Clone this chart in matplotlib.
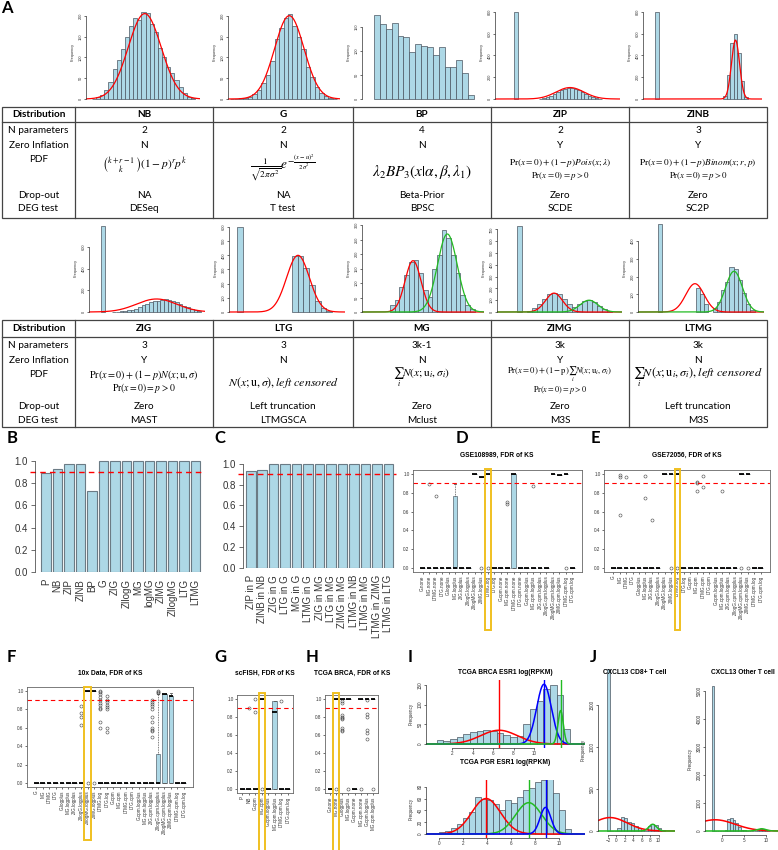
import numpy as np
import matplotlib
matplotlib.use("Agg")
import matplotlib.pyplot as plt
from matplotlib.patches import Rectangle
from matplotlib.transforms import blended_transform_factory

# ---------------- data ----------------
# panel A, top row histograms (bin width 1, counts)
nb_counts = [1, 4, 10, 22, 42, 72, 94, 120, 150, 175, 195, 190, 208, 207, 180, 160, 122, 100, 78, 62, 45, 28, 15, 6, 2]
g_counts = [1, 1, 2, 3, 6, 12, 22, 38, 58, 92, 145, 170, 195, 205, 175, 150, 120, 78, 52, 30, 15, 8, 3, 1]
bp_counts = [175, 155, 145, 157, 130, 129, 98, 114, 110, 108, 92, 108, 67, 66, 81, 53, 8]
zip_zero = 800
zip_counts = [3, 8, 18, 30, 45, 62, 78, 92, 100, 98, 90, 80, 65, 48, 32, 18, 8, 3]
zinb_zero = 800
zinb_counts = [30, 220, 510, 600, 420, 165, 20]
# second row
zig_zero = 790
zig_counts = [2, 3, 5, 8, 14, 22, 32, 45, 60, 75, 92, 105, 102, 114, 118, 112, 100, 88, 72, 58, 42, 28, 16, 8]
ltg_zero = 600
ltg_counts = [395, 395, 310, 190, 80, 25, 5]
mg_counts = [25, 40, 87, 128, 173, 178, 134, 76, 52, 149, 197, 283, 255, 197, 135, 58, 24, 10]
zimg_zero = 730
zimg_counts = [8, 30, 65, 110, 150, 165, 150, 110, 65, 45, 70, 95, 100, 85, 55, 25, 8]
ltmg_zero = 500
ltmg_red = [135, 102, 45]
ltmg_green = [22, 58, 124, 171, 253, 243, 181, 109, 45, 11]

# fitted curves (mean, sd, peak height)
nb_fit = (12.8, 4.0, 205)
g_fit = (13.3, 3.3, 200)
zip_fit = (16.0, 4.0, 105)
zinb_fit = (23.0, 1.15, 540)
zig_fit = (15.0, 5.4, 120)
ltg_fit = (10.7, 2.0, 400)
mg_fit = [(4.9, 1.7, 177), (12.2, 2.1, 269)]
zimg_fit = [(7.4, 1.7, 160), (14.4, 1.8, 100)]
ltmg_fit = [(8.8, 2.2, 160), (18.1, 2.0, 230)]

# tables
row_names = ["N parameters", "Zero Inflation", "PDF", "Drop-out", "DEG test"]
t1_names = ["NB", "G", "BP", "ZIP", "ZINB"]
t1_npar = ["2", "2", "4", "2", "3"]
t1_zi = ["N", "N", "N", "Y", "Y"]
t1_drop = ["NA", "NA", "Beta-Prior", "Zero", "Zero"]
t1_deg = ["DESeq", "T test", "BPSC", "SCDE", "SC2P"]
t2_names = ["ZIG", "LTG", "MG", "ZIMG", "LTMG"]
t2_npar = ["3", "3", "3k-1", "3k", "3k"]
t2_zi = ["Y", "N", "N", "Y", "N"]
t2_drop = ["Zero", "Left truncation", "Zero", "Zero", "Left truncation"]
t2_deg = ["MAST", "LTMGSCA", "Mclust", "M3S", "M3S"]
zero_line = r"$\mathrm{Pr}(x=0)=p>0$"
t1_pdf = [[r"$\binom{k+r-1}{k}(1-p)^r p^k$"],
          [r"$\frac{1}{\sqrt{2\pi\sigma^2}}e^{-\frac{(x-u)^2}{2\sigma^2}}$"],
          [r"$\lambda_2 BP_3(x|\alpha,\beta,\lambda_1)$"],
          [r"$\mathrm{Pr}(x=0)+(1-p)Pois(x;\lambda)$", zero_line],
          [r"$\mathrm{Pr}(x=0)+(1-p)Binom(x;r,p)$", zero_line]]
t2_pdf = [[r"$\mathrm{Pr}(x=0)+(1-p)N(x;\mathrm{u},\sigma)$", zero_line],
          [r"$N(x;\mathrm{u},\sigma),left\ censored$"],
          [r"$\sum_i N(x;\mathrm{u}_i,\sigma_i)$"],
          [r"$\mathrm{Pr}(x=0)+(1-\mathrm{p})\sum_i N(x;\mathrm{u}_i,\sigma_i)$", zero_line],
          [r"$\sum_i N(x;\mathrm{u}_i,\sigma_i),left\ censored$"]]

# panel B / C
b_labels = ["P", "NB", "ZIP", "ZINB", "BP", "G", "ZIG", "ZIlogG", "MG", "logMG", "ZIMG", "ZIlogMG", "LTG", "LTMG"]
b_values = [0.89, 0.93, 0.97, 0.97, 0.73, 1, 1, 1, 1, 1, 1, 1, 1, 1]
c_labels = ["ZIP in P", "ZINB in NB", "ZIG in G", "LTG in G", "MG in G", "LTMG in G", "ZIG in MG",
            "LTG in MG", "ZIMG in MG", "LTMG in NB", "LTMG in MG", "LTMG in ZIMG", "LTMG in LTG"]
c_values = [0.93, 0.94, 1, 1, 1, 1, 1, 1, 1, 1, 1, 1, 1]

# panels D-H: box summaries (median, q1, q3, upper whisker) and outliers
d_labels = ["G.none", "MG.none", "LTMG.none", "LTG.none", "G.logplus", "MG.logplus", "ZIG.logplus",
            "ZIlogG.logplus", "ZIlogMG.logplus", "ZIMG.logplus", "LTMG.log", "LTG.log", "G.cpm.none",
            "MG.cpm.none", "LTMG.cpm.none", "LTG.cpm.none", "G.cpm.logplus", "MG.cpm.logplus",
            "ZIG.cpm.logplus", "ZIlogG.cpm.logplus", "ZIlogMG.cpm.logplus", "ZIMG.cpm.logplus",
            "LTMG.cpm.log", "LTG.cpm.log"]
d_med = [0, 0, 0, 0, 0, 0, 0, 0, 1.0, 0.97, 1.0, 0, 0, 0, 1.0, 0, 0, 0, 0, 0, 1.0, 0.99, 1.0, 0]
d_q1 = [0, 0, 0, 0, 0, 0, 0, 0, 1.0, 0.97, 1.0, 0, 0, 0, 0, 0, 0, 0, 0, 0, 1.0, 0.99, 1.0, 0]
d_q3 = [0, 0, 0, 0, 0, 0.77, 0, 0, 1.0, 0.97, 1.0, 0, 0, 0, 1.0, 0, 0, 0, 0, 0, 1.0, 0.99, 1.0, 0]
d_whi = [0, 0, 0, 0, 0, 0.89, 0, 0, 1.0, 0.97, 1.0, 0, 0, 0, 1.0, 0, 0, 0, 0, 0, 1.0, 0.99, 1.0, 0]
d_out = {1: [0.89], 2: [0.77], 9: [0.0], 10: [0.0], 13: [0.68, 0.70], 17: [0.87], 22: [0.0]}

e_labels = ["G", "MG", "LTMG", "LTG", "G.logplus", "MG.logplus", "ZIG.logplus", "ZIlogG.logplus",
            "ZIlogMG.logplus", "ZIMG.logplus", "LTMG.log", "LTG.log", "G.cpm", "MG.cpm", "LTMG.cpm",
            "LTG.cpm", "G.cpm.logplus", "MG.cpm.logplus", "ZIG.cpm.logplus", "ZIlogG.cpm.logplus",
            "ZIlogMG.cpm.logplus", "ZIMG.cpm.logplus", "LTMG.cpm.log", "LTG.cpm.log"]
e_med = [0, 0, 0, 0, 0, 0, 0, 0, 1.0, 1.0, 1.0, 0, 0, 0, 0, 0, 0, 0, 0, 0, 1.0, 1.0, 0, 0]
e_out = {1: [0.99, 0.97, 0.56], 2: [0.97], 5: [0.98, 0.74], 6: [0.51], 9: [0.0], 10: [0.0],
         13: [0.91, 0.90, 0.82], 14: [0.98, 0.86], 17: [0.82], 20: [0.0], 21: [0.0]}

f_labels = e_labels
f_med = [0, 0, 0, 0, 0, 0, 0, 0, 1.0, 1.0, 0, 0, 0, 0, 0, 0, 0, 0, 0, 0, 0.97, 0.94, 0, 0]
f_q1 = [0, 0, 0, 0, 0, 0, 0, 0, 1.0, 1.0, 0, 0, 0, 0, 0, 0, 0, 0, 0, 0, 0, 0, 0, 0]
f_q3 = [0, 0, 0, 0, 0, 0, 0, 0, 1.0, 1.0, 0, 0, 0, 0, 0, 0, 0, 0, 0, 0.31, 0.97, 0.94, 0, 0]
f_whi = [0, 0, 0, 0, 0, 0, 0, 0, 1.0, 1.0, 0, 0, 0, 0, 0, 0, 0, 0, 0, 0.97, 0.97, 0.98, 0, 0]
f_out = {7: [0.84, 0.76, 0.72, 0.63], 8: [0.0], 9: [0.0],
         10: [1.0, 0.99, 0.97, 0.93, 0.90, 0.87, 0.85, 0.82, 0.80, 0.66, 0.60],
         11: [0.95, 0.90, 0.88, 0.85, 0.83, 0.80, 0.60, 0.55],
         18: [0.90, 0.88, 0.86, 0.84, 0.80, 0.72, 0.66, 0.60, 0.58, 0.56, 0.50],
         19: [0.98, 0.99, 1.0]}

g_labels = ["P", "NB", "G.cpm", "MG.cpm", "G.cpm.logplus", "MG.cpm.logplus", "LTMG.cpm.log", "LTG.cpm.log"]
g_med = [0, 0, 0, 1.0, 0, 0.85, 0, 0]
g_q1 = [0, 0, 0, 1.0, 0, 0, 0, 0]
g_q3 = [0, 0, 0, 1.0, 0, 0.98, 0, 0]
g_out = {1: [0.90], 2: [1.0, 0.86], 3: [0.0], 6: [0.98]}

h_labels = ["G.none", "MG.none", "G.logplus", "MG.logplus", "G.cpm.none", "MG.cpm.none",
            "G.cpm.logplus", "MG.cpm.logplus"]
h_med = [0, 1.0, 1.0, 1.0, 0, 1.0, 1.0, 1.0]
h_out = {1: [0.0], 2: [0.98, 0.95, 0.82, 0.80, 0.79, 0.78, 0.68, 0.66, 0.64], 3: [0.0],
         5: [0.0], 6: [0.99, 0.83, 0.80, 0.65, 0.62, 0.55], 7: [0.0]}

# panel I
esr1_start, esr1_width = 0.46, 0.654
esr1_counts = [10, 8, 12, 18, 25, 30, 32, 35, 33, 28, 22, 17, 20, 50, 88, 110, 140, 150, 125, 38]
esr1_fit = [(6.58, 1.8, 35, "red"), (10.99, 0.72, 152, "blue"), (12.62, 0.26, 85, "#22bb22")]
pgr_start, pgr_width = -0.5, 0.5
pgr_counts = [2, 3, 5, 10, 17, 27, 38, 62, 60, 58, 50, 40, 57, 52, 62, 75, 78, 88, 92, 95, 70, 40, 8, 2]
pgr_fit = [(3.9, 1.2, 60, "red"), (7.45, 1.1, 53, "#22bb22"), (8.85, 0.45, 45, "blue")]

# panel J
cd8_start, cd8_width = -2.2, 0.8
cd8_counts = [1930, 0, 0, 40, 170, 150, 110, 100, 60, 30, 10, 20, 55, 80, 70, 30, 8]
cd8_fit = [(-1.5, 4.0, 160, "red"), (8.6, 0.9, 80, "#22bb22")]
oth_start, oth_width = -2.3, 0.6
oth_counts = [5150, 0, 0, 0, 0, 20, 420, 480, 400, 300, 150, 50, 20, 0, 0, 0, 0, 40, 80, 70, 40, 10]
oth_fit = [(-1.5, 4.5, 400, "red"), (9.0, 1.0, 80, "#22bb22")]

# ---------------- drawing ----------------
W, H = 778, 850
LB = "#ADD8E6"
EDGE = "#4A5560"
AX = "#333333"
fig = plt.figure(figsize=(W / 100, H / 100), dpi=100)
fig.patch.set_facecolor("white")
plt.rcParams["font.family"] = ["Liberation Sans", "DejaVu Sans"]
plt.rcParams["mathtext.fontset"] = "stix"


def px_axes(x0, y0, x1, y1):
    return fig.add_axes([x0 / W, 1 - y1 / H, (x1 - x0) / W, (y1 - y0) / H])


def r_axis(ax, yticks=None, xticks=None, fs=3.0, rot=90):
    for s in ("top", "right"):
        ax.spines[s].set_visible(False)
    if yticks is None:
        ax.spines["left"].set_visible(False)
        ax.set_yticks([])
    else:
        ax.set_yticks(yticks)
        ax.spines["left"].set_bounds(yticks[0], yticks[-1])
    if xticks is None:
        ax.spines["bottom"].set_visible(False)
        ax.set_xticks([])
    else:
        ax.set_xticks(xticks)
        ax.spines["bottom"].set_bounds(xticks[0], xticks[-1])
    for s in ax.spines.values():
        s.set_linewidth(0.5)
        s.set_color(AX)
    ax.tick_params(labelsize=fs, length=1.5, width=0.5, pad=1, colors=AX)
    if yticks is not None and rot:
        plt.setp(ax.get_yticklabels(), rotation=rot, va="center")
    ax.patch.set_alpha(0)


def gauss(xs, mu, sd, peak):
    return peak * np.exp(-0.5 * ((xs - mu) / sd) ** 2)


def hist_ax(x0, x1, top, base, org, ppx, ppy, segments, fits, yticks, lw=0.9):
    ax = px_axes(x0, top, x1, base + 2)
    for start, counts in segments:
        lefts = start + np.arange(len(counts))
        ax.bar(lefts, counts, width=1, align="edge", color=LB, edgecolor=EDGE, linewidth=0.5)
    xlim = ((x0 - org) / ppx, (x1 - org) / ppx)
    xs = np.linspace(xlim[0], xlim[1], 600)
    for mu, sd, peak, col in fits:
        ax.plot(xs, gauss(xs, mu, sd, peak), color=col, lw=lw)
    ax.set_xlim(*xlim)
    ax.set_ylim(-2 / ppy, (base - top) / ppy)
    r_axis(ax, yticks=yticks, fs=2.8)
    ax.set_ylabel("Frequency", fontsize=2.8, labelpad=3, color=AX)
    return ax


# top row
hist_ax(86, 200, 3, 99, 92, 4.12, 0.4165, [(0, nb_counts)], [nb_fit + ("red",)], [0, 50, 100, 150, 200])
hist_ax(228, 340, 3, 99, 230, 4.46, 0.4165, [(0, g_counts)], [g_fit + ("red",)], [0, 50, 100, 150, 200])
hist_ax(362, 480, 3, 99, 374, 5.88, 0.482, [(0, bp_counts)], [], [0, 50, 100, 150])
hist_ax(495, 620, 3, 99, 514, 3.5, 0.109, [(0, [zip_zero]), (7, zip_counts)], [zip_fit + ("red",)],
        [0, 200, 400, 600, 800])
hist_ax(643, 762, 3, 99, 655, 3.5, 0.109, [(0, [zinb_zero]), (19.5, zinb_counts)], [zinb_fit + ("red",)],
        [0, 200, 400, 600, 800])
# second row
hist_ax(89, 205, 222, 312, 101, 3.7, 0.1085, [(0, [zig_zero]), (3, zig_counts)], [zig_fit + ("red",)],
        [0, 200, 400, 600])
hist_ax(229, 345, 222, 312, 237, 5.7, 0.1417, [(0, [ltg_zero]), (9.65, ltg_counts)], [ltg_fit + ("red",)],
        [0, 100, 200, 300, 400, 500, 600])
hist_ax(362, 484, 222, 312, 390, 4.7, 0.29, [(0, mg_counts)],
        [mg_fit[0] + ("red",), mg_fit[1] + ("#22bb22",)], [0, 50, 100, 150, 200, 250, 300])
hist_ax(497, 622, 222, 312, 517, 5.0, 0.118, [(0, [zimg_zero]), (2, zimg_counts)],
        [zimg_fit[0] + ("red",), zimg_fit[1] + ("#22bb22",)], [0, 100, 200, 300, 400, 500, 600, 700])
hist_ax(638, 764, 222, 312, 658, 4.2, 0.177, [(0, [ltmg_zero]), (9, ltmg_red), (13, ltmg_green)],
        [ltmg_fit[0] + ("red",), ltmg_fit[1] + ("#22bb22",)], [0, 100, 200, 300, 400])

# overlay for tables and panel letters
ov = fig.add_axes([0, 0, 1, 1])
ov.set_xlim(0, W)
ov.set_ylim(H, 0)
ov.axis("off")

col_x = [2, 75, 213, 353, 491, 629, 767]
TF = ["Lato", "DejaVu Sans"]


def table(top, hdr, bottom, names, npar, zi, pdf, drop, deg, rows_y, pdf_y, pdf_fs, gaps):
    ov.add_patch(Rectangle((col_x[0], top), col_x[-1] - col_x[0], bottom - top, fill=False,
                           ec="#444444", lw=0.9))
    ov.plot([col_x[0], col_x[-1]], [hdr, hdr], color="#444444", lw=0.9)
    for x in col_x[1:-1]:
        ov.plot([x, x], [top, bottom], color="#444444", lw=0.9)
    cx0 = (col_x[0] + col_x[1]) / 2
    ov.text(cx0, (top + hdr) / 2, "Distribution", ha="center", va="center", fontsize=7.2,
            fontweight="bold", family=TF)
    for name, y in zip(row_names, rows_y):
        ov.text(cx0, y, name, ha="center", va="center", fontsize=7.2, family=TF)
    for i in range(5):
        cx = (col_x[i + 1] + col_x[i + 2]) / 2
        ov.text(cx, (top + hdr) / 2, names[i], ha="center", va="center", fontsize=7.2,
                fontweight="bold", family=TF)
        ov.text(cx, rows_y[0], npar[i], ha="center", va="center", fontsize=7.2, family=TF)
        ov.text(cx, rows_y[1], zi[i], ha="center", va="center", fontsize=7.2, family=TF)
        ov.text(cx, rows_y[3], drop[i], ha="center", va="center", fontsize=7.2, family=TF)
        ov.text(cx, rows_y[4], deg[i], ha="center", va="center", fontsize=7.2, family=TF)
        lines = pdf[i]
        if len(lines) == 1:
            ov.text(cx, pdf_y[i], lines[0], ha="center", va="center", fontsize=pdf_fs[i])
        else:
            up, down = gaps[i]
            ov.text(cx, pdf_y[i] - up, lines[0], ha="center", va="center", fontsize=pdf_fs[i])
            ov.text(cx, pdf_y[i] + down, lines[1], ha="center", va="center", fontsize=pdf_fs[i] * 0.95)


table(107, 122, 218, t1_names, t1_npar, t1_zi, t1_pdf, t1_drop, t1_deg,
      [130, 145, 159, 195, 208], [166, 167, 172, 169, 169], [8.2, 9.5, 11, 6.7, 6.7],
      [None, None, None, (6.5, 7), (6.5, 7)])
table(320, 337, 427, t2_names, t2_npar, t2_zi, t2_pdf, t2_drop, t2_deg,
      [345, 360, 374, 406, 420], [381, 383, 377, 381, 377], [7.3, 8.6, 8.2, 6.2, 8.8],
      [(6.5, 7), None, None, (7, 9), None])

for letter, x, y in [("A", 7, 8), ("B", 12, 438), ("C", 220, 438), ("D", 462, 438), ("E", 595, 438),
                     ("F", 11, 657), ("G", 220, 657), ("H", 312, 657), ("I", 410, 657), ("J", 593, 657)]:
    ov.text(x, y, letter, ha="center", va="center", fontsize=12, fontweight="bold", family=TF)


# panel B, C
def bar_panel(box, labels, values, xl):
    ax = px_axes(*box)
    pos = 0.7 + 1.2 * np.arange(len(values))
    ax.bar(pos, values, width=1.0, color=LB, edgecolor="#6b7b85", linewidth=0.8)
    ax.plot([xl[0] - 0.5, xl[1]], [0.9, 0.9], color="red", lw=1.0, ls=(0, (4, 3)), clip_on=False)
    ax.set_xlim(*xl)
    ax.set_ylim(0, 1.054)
    r_axis(ax, yticks=[0, 0.2, 0.4, 0.6, 0.8, 1.0], fs=7, rot=0)
    ax.set_yticklabels(["0.0", "0.2", "0.4", "0.6", "0.8", "1.0"])
    ax.spines["bottom"].set_visible(False)
    ax.set_xticks(pos)
    ax.set_xticklabels(labels, rotation=90, fontsize=7, color=AX)
    ax.tick_params(axis="x", length=0, pad=5)
    ax.tick_params(axis="y", length=3, pad=2)
    return ax


bar_panel((35, 455, 202, 572), b_labels, b_values, (-0.43, 17.0))
bar_panel((243, 458, 396, 568), c_labels, c_values, (-0.11, 15.9))


def box_panel(box, labels, med, q1, q3, whi, outl, title, tx, ty, hl, hw, hy0, hy1):
    ax = px_axes(*box)
    n = len(labels)
    stats = []
    for i in range(n):
        stats.append(dict(med=med[i], q1=q1[i], q3=q3[i], whislo=q1[i], whishi=whi[i],
                          fliers=outl.get(i, [])))
    ax.bxp(stats, positions=np.arange(1, n + 1), widths=0.72, patch_artist=True,
           boxprops=dict(facecolor=LB, edgecolor="#6b7b85", lw=0.6),
           medianprops=dict(color="black", lw=1.3),
           whiskerprops=dict(color="#555555", ls=(0, (1, 1)), lw=0.6),
           capprops=dict(color="#555555", lw=0.6),
           flierprops=dict(marker="o", mfc="none", mec="#444444", ms=2.2, mew=0.4))
    ax.axhline(0.9, color="red", lw=0.8, ls=(0, (4, 3)))
    pad = 0.04 * n
    ax.set_xlim(0.5 - pad, n + 0.5 + pad)
    ax.set_ylim(-0.043, 1.043)
    ax.set_yticks([0, 0.2, 0.4, 0.6, 0.8, 1.0])
    ax.set_yticklabels(["0.0", "0.2", "0.4", "0.6", "0.8", "1.0"])
    ax.set_xticks(np.arange(1, n + 1))
    ax.set_xticklabels(labels, rotation=90)
    for s in ax.spines.values():
        s.set_linewidth(0.6)
        s.set_color("#666666")
    ax.tick_params(labelsize=3.3, length=1.5, width=0.5, pad=1, colors=AX)
    trans = blended_transform_factory(ax.transData, ax.transAxes)
    ax.add_patch(Rectangle((hl - hw / 2, hy0), hw, hy1 - hy0, transform=trans, fill=False,
                           ec="#F0C020", lw=1.4, clip_on=False, zorder=10))
    fig.text(tx / W, 1 - ty / H, title, ha="center", va="center", fontsize=4.8, fontweight="bold")
    return ax


box_panel((413, 470, 582, 572), d_labels, d_med, d_q1, d_q3, d_whi, d_out,
          "GSE108989, FDR of KS", 497, 455, 11, 0.9, -0.57, 1.01)
box_panel((604, 470, 770, 572), e_labels, e_med, e_med, e_med, e_med, e_out,
          "GSE72056, FDR of KS", 687, 455, 11, 0.9, -0.57, 1.01)
box_panel((27, 687, 193, 787), f_labels, f_med, f_q1, f_q3, f_whi, f_out,
          "10x Data, FDR of KS", 110, 673, 9, 1.0, -0.53, 1.0)
box_panel((237, 695, 293, 793), g_labels, g_med, g_q1, g_q3, g_q3, g_out,
          "scFISH, FDR of KS", 265, 673, 4, 1.0, -0.62, 1.02)
box_panel((325, 695, 378, 793), h_labels, h_med, h_med, h_med, h_med, h_out,
          "TCGA BRCA, FDR of KS", 352, 673, 2, 1.0, -0.62, 1.02)


def hist_r(x0, x1, top, base, axline, org, ppx, ppy, start, width, counts, fits, xticks, yticks, vlines):
    ax = px_axes(x0, top, x1, axline)
    lefts = start + width * np.arange(len(counts))
    ax.bar(lefts, counts, width=width, align="edge", color=LB, edgecolor=EDGE, linewidth=0.5)
    xlim = ((x0 - org) / ppx, (x1 - org) / ppx)
    xs = np.linspace(xlim[0], xlim[1], 600)
    for mu, sd, peak, col in fits:
        ax.plot(xs, gauss(xs, mu, sd, peak), color=col, lw=1.1)
        if vlines:
            ax.axvline(mu, color=col, lw=1.0)
    ax.set_xlim(*xlim)
    ax.set_ylim(-(axline - base) / ppy, (base - top) / ppy)
    r_axis(ax, yticks=yticks, xticks=xticks, fs=3.3)
    ax.set_ylabel("Frequency", fontsize=3.3, labelpad=3, color=AX)
    return ax


hist_r(426, 585, 680, 744, 748, 431.9, 10.2, 0.393, esr1_start, esr1_width, esr1_counts, esr1_fit,
       [2, 4, 6, 8, 10], [0, 50, 100, 150], True)
hist_r(426, 585, 780, 834, 838, 439.3, 12.0, 0.591, pgr_start, pgr_width, pgr_counts, pgr_fit,
       [0, 2, 4, 6, 8, 10], [0, 20, 40, 60, 80], True)
hist_r(598, 675, 665, 831, 835, 616.4, 4.22, 0.084, cd8_start, cd8_width, cd8_counts, cd8_fit,
       [-2, 0, 2, 4, 6, 8, 10], [0, 500, 1000, 1500], False)
hist_r(705, 778, 683, 831, 835, 721.7, 4.43, 0.02806, oth_start, oth_width, oth_counts, oth_fit,
       [0, 5, 10], [0, 1000, 2000, 3000, 4000, 5000], False)

for title, x, y in [("TCGA BRCA ESR1 log(RPKM)", 505, 673), ("TCGA PGR ESR1 log(RPKM)", 505, 763),
                    ("CXCL13 CD8+ T cell", 635, 673), ("CXCL13 Other T cell", 743, 673)]:
    fig.text(x / W, 1 - y / H, title, ha="center", va="center", fontsize=4.8, fontweight="bold")

fig.savefig("out.png", dpi=100, facecolor="white")
